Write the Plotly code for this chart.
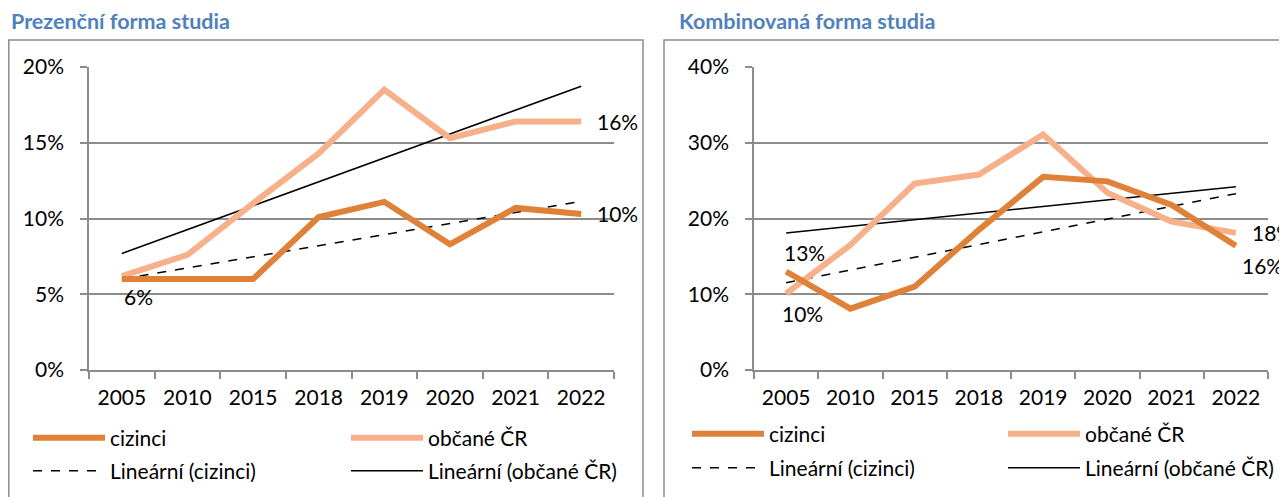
import numpy as np
import plotly.graph_objects as go

# roky (kategorie osy x)
roky = ['2005', '2010', '2015', '2018', '2019', '2020', '2021', '2022']

# prezenční forma studia (%)
prez_cizinci = [6.0, 6.0, 6.0, 10.1, 11.1, 8.3, 10.7, 10.3]
prez_obcane = [6.2, 7.6, 11.0, 14.3, 18.5, 15.3, 16.4, 16.4]

# kombinovaná forma studia (%)
komb_cizinci = [13.0, 8.1, 11.0, 18.5, 25.5, 24.9, 21.8, 16.4]
komb_obcane = [10.1, 16.5, 24.6, 25.8, 31.1, 23.4, 19.6, 18.1]

C_CIZ = '#DF8139'
C_OBC = '#F7B18A'
GRAY = '#8C8C8C'
FONT = 'Lato'
# stránka má výchozí okraj 8 px, graf je proto o 8 px menší
OFF = 8
W, H = 1287 - OFF, 497 - OFF


def px_x(v):
    return (v - OFF) / W


def px_y(v):
    return 1 - (v - OFF) / H


def trend(vals):
    idx = np.arange(len(vals))
    k, q = np.polyfit(idx, vals, 1)
    return list(k * idx + q)


fig = go.Figure()

panels = [
    ('x', 'y', prez_cizinci, prez_obcane, ['legend', 'legend2', 'legend3', 'legend4']),
    ('x2', 'y2', komb_cizinci, komb_obcane, ['legend5', 'legend6', 'legend7', 'legend8']),
]
for xa, ya, ciz, obc, lg in panels:
    fig.add_trace(go.Scatter(x=roky, y=trend(ciz), mode='lines', xaxis=xa, yaxis=ya,
                             name='Lineární (cizinci)', legend=lg[2],
                             line=dict(color='black', width=1.5, dash='dash')))
    fig.add_trace(go.Scatter(x=roky, y=trend(obc), mode='lines', xaxis=xa, yaxis=ya,
                             name='Lineární (občané ČR)', legend=lg[3],
                             line=dict(color='black', width=1.5)))
    fig.add_trace(go.Scatter(x=roky, y=obc, mode='lines', xaxis=xa, yaxis=ya,
                             name='občané ČR', legend=lg[1],
                             line=dict(color=C_OBC, width=6)))
    fig.add_trace(go.Scatter(x=roky, y=ciz, mode='lines', xaxis=xa, yaxis=ya,
                             name='cizinci', legend=lg[0],
                             line=dict(color=C_CIZ, width=6)))

axis_common = dict(showline=True, linecolor=GRAY, linewidth=1.5, ticks='outside',
                   ticklen=7, tickcolor=GRAY, tickwidth=1.5, automargin=False,
                   tickfont=dict(family=FONT, size=21, color='black'))
xr = [-0.5, len(roky) - 0.5]

ydom = [px_y(370), px_y(67)]
fig.update_layout(
    xaxis=dict(domain=[px_x(89), px_x(614)], type='category', tickson='boundaries',
               range=xr, tickangle=0, showgrid=False, ticklabelstandoff=8, anchor='y',
               **axis_common),
    yaxis=dict(domain=ydom, range=[0, 20], dtick=5, ticksuffix='%', showgrid=True,
               gridcolor=GRAY, gridwidth=1.5, zeroline=False, ticklabelstandoff=12,
               anchor='x', **axis_common),
    xaxis2=dict(domain=[px_x(754), px_x(1268)], type='category', tickson='boundaries',
                range=xr, tickangle=0, showgrid=False, ticklabelstandoff=8, anchor='y2',
                **axis_common),
    yaxis2=dict(domain=ydom, range=[0, 40], dtick=10, ticksuffix='%', showgrid=True,
                gridcolor=GRAY, gridwidth=1.5, zeroline=False, ticklabelstandoff=12,
                anchor='x2', **axis_common),
)

# legendy - jedna položka na legendu, dva sloupce pod každým grafem
leg_pos = [(28, 438), (346, 438), (28, 471), (346, 471),
           (687, 434), (1003, 434), (687, 468), (1003, 468)]
leg_names = ['legend', 'legend2', 'legend3', 'legend4',
             'legend5', 'legend6', 'legend7', 'legend8']
for name, (lx, ly) in zip(leg_names, leg_pos):
    fig.update_layout({name: dict(x=px_x(lx), y=px_y(ly), xanchor='left', yanchor='middle',
                                  itemwidth=72, bgcolor='rgba(0,0,0,0)', borderwidth=0,
                                  font=dict(family=FONT, size=21, color='black'))})

# rámečky a nadpisy
fig.add_shape(type='rect', xref='paper', yref='paper', x0=px_x(8.8), x1=px_x(643),
              y0=-0.1, y1=px_y(40), line=dict(color=GRAY, width=1.5))
fig.add_shape(type='rect', xref='paper', yref='paper', x0=px_x(664), x1=px_x(1300),
              y0=-0.1, y1=px_y(40), line=dict(color=GRAY, width=1.5))
for tx, txt in [(9, 'Prezenční forma studia'), (677, 'Kombinovaná forma studia')]:
    fig.add_annotation(x=px_x(tx), y=px_y(21), xref='paper', yref='paper', text=f'<b>{txt}</b>',
                       showarrow=False, xanchor='left', yanchor='middle',
                       font=dict(family=FONT, size=21.5, color='#4F81BD'))

# popisky hodnot (x jako index kategorie)
first, last = 0, len(roky) - 1
lab = dict(showarrow=False, font=dict(family=FONT, size=21, color='black'), xanchor='left')
fig.add_annotation(x=first, y=prez_cizinci[first], xref='x', yref='y', text=f'{prez_cizinci[first]:.0f}%',
                   yanchor='top', xshift=0, yshift=-3, **lab)
fig.add_annotation(x=last, y=prez_cizinci[last], xref='x', yref='y', text=f'{prez_cizinci[last]:.0f}%',
                   yanchor='middle', xshift=14, **lab)
fig.add_annotation(x=last, y=prez_obcane[last], xref='x', yref='y', text=f'{prez_obcane[last]:.0f}%',
                   yanchor='middle', xshift=14, **lab)
fig.add_annotation(x=first, y=komb_cizinci[first], xref='x2', yref='y2', text=f'{komb_cizinci[first]:.0f}%',
                   yanchor='bottom', xshift=-4, yshift=5, **lab)
fig.add_annotation(x=first, y=komb_obcane[first], xref='x2', yref='y2', text=f'{komb_obcane[first]:.0f}%',
                   yanchor='top', xshift=-6, yshift=-6, **lab)
fig.add_annotation(x=last, y=komb_obcane[last], xref='x2', yref='y2', text=f'{komb_obcane[last]:.0f}%',
                   yanchor='middle', xshift=14, **lab)
fig.add_annotation(x=last, y=komb_cizinci[last], xref='x2', yref='y2', text=f'{komb_cizinci[last]:.0f}%',
                   yanchor='top', xshift=4, yshift=-5, **lab)

fig.update_layout(width=W, height=H, margin=dict(l=0, r=0, t=0, b=0),
                  paper_bgcolor='white', plot_bgcolor='white', showlegend=True)

fig.write_html('out.html')
